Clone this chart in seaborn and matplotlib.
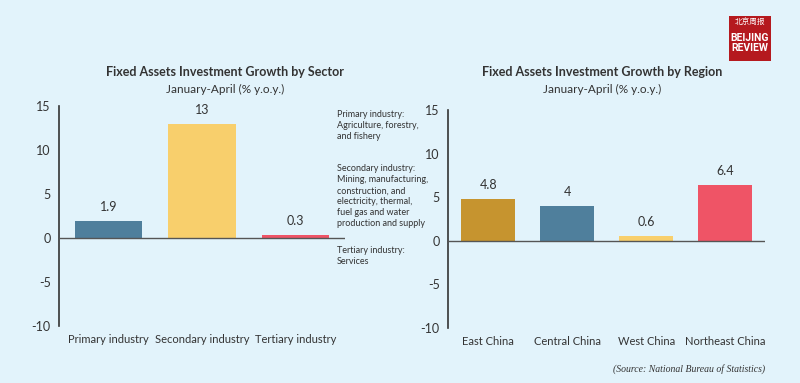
import matplotlib
matplotlib.use("Agg")
import matplotlib.pyplot as plt
import seaborn as sns
import pandas as pd
from matplotlib.patches import Rectangle

# data
sectors = ["Primary industry", "Secondary industry", "Tertiary industry"]
sector_growth = [1.9, 13, 0.3]
sector_labels = ["1.9", "13", "0.3"]
regions = ["East China", "Central China", "West China", "Northeast China"]
region_growth = [4.8, 4, 0.6, 6.4]
region_labels = ["4.8", "4", "0.6", "6.4"]
y_ticks = [-10, -5, 0, 5, 10, 15]

bg = "#e2f3fb"
ink = "#333333"
sector_colors = ["#4f7f9c", "#f8cf6c", "#ef5466"]
region_colors = ["#c6942f", "#4f7f9c", "#f8cf6c", "#ef5466"]

sns.set_theme(style="white")
plt.rcParams["font.family"] = ["Lato", "Noto Sans CJK SC", "DejaVu Sans"]

fig = plt.figure(figsize=(8, 3.83), dpi=100)
fig.patch.set_facecolor(bg)


def draw_panel(ax, cats, vals, labels, colors, xlim, width):
    df = pd.DataFrame({"cat": cats, "val": vals})
    sns.barplot(data=df, x="cat", y="val", hue="cat", palette=colors,
                legend=False, width=width, saturation=1, linewidth=0, ax=ax)
    ax.set_facecolor(bg)
    ax.set_ylim(-10, 15)
    ax.set_xlim(*xlim)
    ax.set_yticks(y_ticks)
    ax.set_yticklabels([str(t) for t in y_ticks])
    ax.set_xlabel("")
    ax.set_ylabel("")
    for s in ["top", "right", "bottom"]:
        ax.spines[s].set_visible(False)
    ax.spines["left"].set_color(ink)
    ax.spines["left"].set_linewidth(1.2)
    ax.axhline(0, color="#555555", lw=1.0, zorder=3)
    ax.tick_params(axis="y", length=0, pad=6, labelsize=9, labelcolor=ink)
    ax.tick_params(axis="x", length=0, pad=6, labelsize=8, labelcolor=ink)
    for i, (v, lab) in enumerate(zip(vals, labels)):
        ax.text(i, v + 0.9, lab, ha="center", va="bottom", fontsize=9, color=ink)


ax1 = fig.add_axes([0.07375, 0.1488, 0.3575, 0.5744])
draw_panel(ax1, sectors, sector_growth, sector_labels, sector_colors, (-0.53, 2.53), 0.72)
ax2 = fig.add_axes([0.56, 0.1436, 0.396, 0.569])
draw_panel(ax2, regions, region_growth, region_labels, region_colors, (-0.51, 3.5), 0.68)

# titles
fig.text(225 / 800, 1 - 72 / 383, "Fixed Assets Investment Growth by Sector",
         ha="center", va="center", fontsize=9, fontweight="bold", color=ink)
fig.text(225 / 800, 1 - 89 / 383, "January-April (% y.o.y.)",
         ha="center", va="center", fontsize=8.5, color=ink)
fig.text(602 / 800, 1 - 72 / 383, "Fixed Assets Investment Growth by Region",
         ha="center", va="center", fontsize=9, fontweight="bold", color=ink)
fig.text(602 / 800, 1 - 89 / 383, "January-April (% y.o.y.)",
         ha="center", va="center", fontsize=8.5, color=ink)

# sector notes
notes = [
    (110, "Primary industry:\nAgriculture, forestry,\nand fishery"),
    (164, "Secondary industry:\nMining, manufacturing,\nconstruction, and\nelectricity, thermal,\nfuel gas and water\nproduction and supply"),
    (246, "Tertiary industry:\nServices"),
]
for y, txt in notes:
    fig.text(337 / 800, 1 - y / 383, txt, ha="left", va="top", fontsize=6.5,
             color=ink, linespacing=1.3)

# source
fig.text(765 / 800, 1 - 369 / 383, "(Source: National Bureau of Statistics)",
         ha="right", va="center", fontsize=7, style="italic",
         family="Liberation Serif", color=ink)

# logo
fig.patches.append(Rectangle((729 / 800, 1 - 61 / 383), 42 / 800, 45 / 383,
                             transform=fig.transFigure, facecolor="#b5191e",
                             edgecolor="none"))
fig.text(750 / 800, 1 - 23 / 383, "北京周报", ha="center", va="center",
         fontsize=5.5, color="white", family=["Noto Sans CJK SC", "DejaVu Sans"])
fig.text(750 / 800, 1 - 43 / 383, "BEIJING\nREVIEW", ha="center", va="center",
         fontsize=7.5, fontweight="bold", color="white", linespacing=0.95,
         family="Roboto")

fig.savefig("out.png", dpi=100, facecolor=bg)
